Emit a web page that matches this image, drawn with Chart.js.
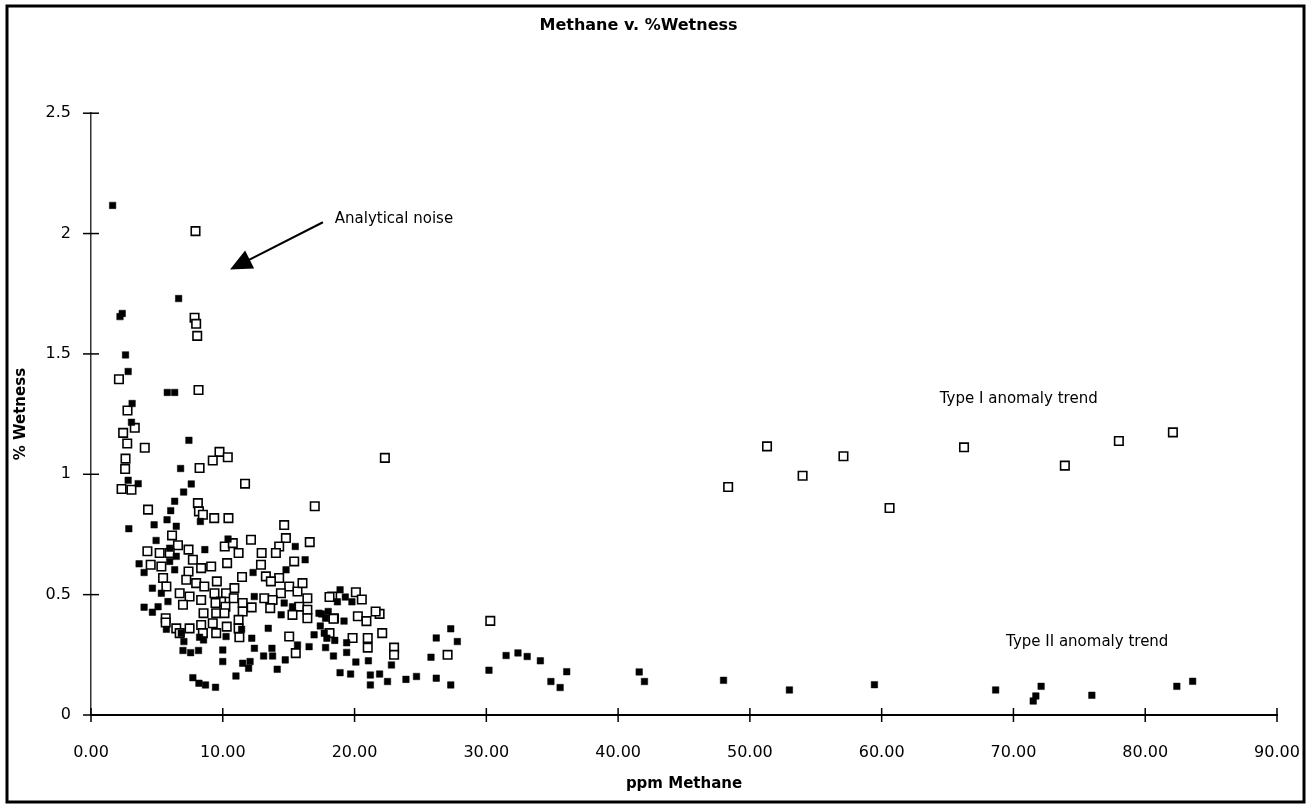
<!DOCTYPE html>
<html>
<head>
<meta charset="utf-8">
<script src="https://cdn.jsdelivr.net/npm/chart.js@4.4.1/dist/chart.umd.min.js"></script>
<style>
html,body{margin:0;padding:0;background:#fff;}
canvas{display:block;}
</style>
</head>
<body>
<canvas id="wetChart" width="1310" height="805"></canvas>
<script>
let xTicks = [0, 10, 20, 30, 40, 50, 60, 70, 80, 90];
let yTicks = [0, 0.5, 1, 1.5, 2, 2.5];

// open squares
let openX = [7.93, 7.86, 7.98, 8.06, 2.12, 8.16,
    2.77, 3.32, 2.44, 2.75, 4.08, 2.62, 2.59, 9.75, 10.38, 9.24, 8.24, 11.69, 2.32, 3.07,
    8.11, 8.19, 8.49, 9.35, 10.43, 4.33, 16.98, 14.66, 6.15, 14.79, 12.14, 16.6, 10.15, 10.76,
    11.2, 6.6, 4.28, 5.21, 5.97, 7.4, 7.73, 14.28, 14.03, 12.95, 15.42, 10.33, 4.53, 5.34,
    8.36, 9.12, 12.9, 7.4, 11.46, 13.27, 14.28, 13.65, 5.47, 7.23, 7.98, 8.6, 9.55, 5.72,
    10.88, 10.25, 15.04, 15.67, 16.05, 14.41, 13.15, 13.78, 6.73, 7.48, 8.36, 9.37, 9.87,
    10.83, 11.51, 16.42, 6.98, 9.45, 10.2, 13.6, 15.8, 16.42, 12.19, 11.51, 5.67, 5.67,
    8.54, 9.5, 10.13, 15.29, 16.42, 18.44, 18.3, 11.2, 6.47, 6.73, 7.48, 8.36, 8.49, 9.24,
    9.5, 10.3, 11.2, 11.26, 15.04, 15.54,
    22.3, 30.3, 27.06, 18.1, 20.1, 20.55, 18.4, 20.25, 20.9, 21.9, 21.6, 18.1, 19.85, 21.0,
    21.0, 22.1, 23.0, 23.0,
    48.35, 51.3, 54.0, 57.1, 60.6, 66.25, 73.9, 78.0, 82.1];
let openY = [2.01, 1.65, 1.625, 1.575, 1.395, 1.35,
    1.265, 1.193, 1.172, 1.128, 1.11, 1.065, 1.022, 1.093, 1.071, 1.057, 1.026, 0.961, 0.939, 0.936,
    0.88, 0.846, 0.832, 0.818, 0.818, 0.853, 0.867, 0.789, 0.746, 0.735, 0.728, 0.718, 0.70, 0.714,
    0.673, 0.705, 0.68, 0.673, 0.673, 0.687, 0.645, 0.70, 0.673, 0.673, 0.638, 0.631, 0.624, 0.617,
    0.61, 0.617, 0.624, 0.596, 0.573, 0.576, 0.569, 0.555, 0.569, 0.562, 0.548, 0.534, 0.555, 0.534,
    0.527, 0.506, 0.534, 0.513, 0.548, 0.506, 0.485, 0.478, 0.506, 0.492, 0.478, 0.506, 0.471,
    0.485, 0.465, 0.485, 0.458, 0.465, 0.45, 0.444, 0.45, 0.437, 0.447, 0.43, 0.402, 0.384,
    0.423, 0.423, 0.423, 0.416, 0.402, 0.402, 0.492, 0.395, 0.36, 0.34, 0.36, 0.374, 0.34, 0.381,
    0.34, 0.367, 0.36, 0.323, 0.326, 0.257,
    1.068, 0.391, 0.25, 0.49, 0.51, 0.48, 0.40, 0.41, 0.39, 0.42, 0.43, 0.34, 0.32, 0.32,
    0.28, 0.34, 0.28, 0.25,
    0.947, 1.116, 0.994, 1.075, 0.86, 1.112, 1.036, 1.138, 1.174];

// filled squares
let filledX = [1.64, 6.65, 2.37, 2.2, 2.62, 2.82, 5.79, 6.35,
    3.12, 3.07, 7.43, 6.8, 7.61, 7.03, 6.35, 2.82, 3.58, 8.3, 6.05, 5.77, 4.79, 6.47, 2.87,
    4.94, 10.4, 8.64, 5.97, 6.47, 15.5, 16.25, 3.65, 4.03, 5.97, 6.35, 12.3, 14.8, 4.66, 5.34,
    12.39, 4.03, 4.66, 5.09, 5.84, 14.66, 15.29, 14.43, 17.3, 5.72, 11.43, 13.45, 8.24, 8.54,
    10.25, 6.85, 7.05, 12.2, 12.4, 16.93, 16.55, 15.67, 13.1, 13.78, 13.73, 14.74, 14.13, 10.0,
    6.98, 7.56, 8.16, 10.0, 11.51, 12.07, 11.96, 11.0, 7.73, 8.19, 8.69, 9.45, 17.8, 17.9,
    18.9, 19.3, 18.7, 19.8, 17.5, 18.0, 19.2, 17.4, 17.7, 18.5, 19.4, 17.8, 18.4, 19.4, 20.1,
    21.05, 18.9, 19.7, 21.2, 21.9, 21.2, 22.5, 22.8, 23.9, 24.7, 26.2, 27.3, 25.8, 26.2, 27.3,
    27.8, 30.2, 31.5, 32.4, 33.1, 34.1, 34.9, 35.6, 36.1,
    41.6, 42.0, 48.0, 53.0, 59.45, 68.65, 71.5, 71.7, 72.1, 75.95, 82.4, 83.6];
let filledY = [2.117, 1.73, 1.668, 1.655, 1.496, 1.427, 1.34, 1.34,
    1.294, 1.216, 1.141, 1.024, 0.96, 0.926, 0.888, 0.975, 0.961, 0.804, 0.849, 0.811, 0.79, 0.784, 0.774,
    0.725, 0.731, 0.687, 0.693, 0.659, 0.70, 0.645, 0.628, 0.592, 0.638, 0.603, 0.592, 0.603, 0.527, 0.506,
    0.492, 0.448, 0.427, 0.45, 0.471, 0.465, 0.45, 0.416, 0.423, 0.356, 0.356, 0.36, 0.323, 0.312,
    0.326, 0.34, 0.305, 0.319, 0.277, 0.333, 0.284, 0.291, 0.245, 0.245, 0.277, 0.229, 0.19, 0.27,
    0.268, 0.259, 0.268, 0.222, 0.215, 0.222, 0.194, 0.162, 0.155, 0.132, 0.125, 0.115, 0.402, 0.319,
    0.52, 0.49, 0.47, 0.47, 0.42, 0.43, 0.39, 0.37, 0.34, 0.31, 0.30, 0.28, 0.245, 0.26, 0.22,
    0.225, 0.176, 0.17, 0.166, 0.17, 0.125, 0.139, 0.208, 0.148, 0.16, 0.153, 0.125, 0.24, 0.32, 0.358,
    0.305, 0.186, 0.247, 0.258, 0.243, 0.225, 0.139, 0.114, 0.18,
    0.179, 0.139, 0.144, 0.104, 0.126, 0.104, 0.058, 0.079, 0.119, 0.082, 0.119, 0.14];

let fontFam = '"DejaVu Sans", sans-serif';

function toPoints(xs, ys) {
    return xs.map((x, i) => ({ x: x, y: ys[i] }));
}

// 框線、刻度、註解
const extrasPlugin = {
    id: 'extras',
    afterDraw(chart) {
        let ctx = chart.ctx;
        let xs = chart.scales.x, ys = chart.scales.y;
        ctx.save();
        ctx.strokeStyle = '#000';
        ctx.fillStyle = '#000';

        // tick marks crossing the axes
        ctx.lineWidth = 1.5;
        xTicks.forEach(v => {
            let px = xs.getPixelForValue(v);
            ctx.beginPath();
            ctx.moveTo(px, ys.bottom - 7);
            ctx.lineTo(px, ys.bottom + 7);
            ctx.stroke();
        });
        yTicks.forEach(v => {
            let py = ys.getPixelForValue(v);
            ctx.beginPath();
            ctx.moveTo(xs.left - 8, py);
            ctx.lineTo(xs.left + 8, py);
            ctx.stroke();
        });

        // arrow to the noise points
        let x1 = xs.getPixelForValue(17.6), y1 = ys.getPixelForValue(2.047);
        let x2 = xs.getPixelForValue(10.55), y2 = ys.getPixelForValue(1.851);
        let ang = Math.atan2(y2 - y1, x2 - x1);
        ctx.lineWidth = 2;
        ctx.beginPath();
        ctx.moveTo(x1, y1);
        ctx.lineTo(x2 - 18 * Math.cos(ang), y2 - 18 * Math.sin(ang));
        ctx.stroke();
        ctx.beginPath();
        ctx.moveTo(x2, y2);
        ctx.lineTo(x2 - 22 * Math.cos(ang) + 10 * Math.sin(ang), y2 - 22 * Math.sin(ang) - 10 * Math.cos(ang));
        ctx.lineTo(x2 - 22 * Math.cos(ang) - 10 * Math.sin(ang), y2 - 22 * Math.sin(ang) + 10 * Math.cos(ang));
        ctx.closePath();
        ctx.fill();

        // labels
        ctx.font = '15px ' + fontFam;
        ctx.textBaseline = 'middle';
        ctx.textAlign = 'left';
        ctx.fillText('Analytical noise', xs.getPixelForValue(18.5), ys.getPixelForValue(2.06));
        ctx.textAlign = 'center';
        ctx.fillText('Type I anomaly trend', xs.getPixelForValue(70.4), ys.getPixelForValue(1.314));
        ctx.fillText('Type II anomaly trend', xs.getPixelForValue(75.6), ys.getPixelForValue(0.304));

        // outer frame
        ctx.lineWidth = 3;
        ctx.strokeRect(7, 6, 1297, 796);
        ctx.restore();
    }
};

let ctx = document.getElementById('wetChart').getContext('2d');
let wetChart = new Chart(ctx, {
    type: 'scatter',
    data: {
        datasets: [{
            label: 'filled',
            data: toPoints(filledX, filledY),
            pointStyle: 'rect',
            pointRadius: 4.6,
            backgroundColor: '#000',
            borderColor: '#000',
            borderWidth: 0.5,
            order: 1
        }, {
            label: 'open',
            data: toPoints(openX, openY),
            pointStyle: 'rect',
            pointRadius: 6,
            backgroundColor: '#fff',
            borderColor: '#000',
            borderWidth: 1.6,
            order: 2
        }]
    },
    options: {
        responsive: false,
        animation: false,
        devicePixelRatio: 1,
        layout: { padding: { left: 0, right: 33, top: 0, bottom: 0 } },
        plugins: {
            legend: { display: false },
            tooltip: { enabled: false },
            title: {
                display: true,
                text: 'Methane v. %Wetness',
                color: '#000',
                font: { family: fontFam, size: 16, weight: 'bold' },
                padding: { top: 16, bottom: 78 }
            }
        },
        scales: {
            x: {
                type: 'linear',
                min: 0,
                max: 90,
                afterBuildTicks: axis => { axis.ticks = xTicks.map(v => ({ value: v })); },
                afterFit: axis => {
                    axis.height = 90;
                    axis.paddingLeft = 0;
                    axis.paddingRight = 0;
                },
                grid: { display: true, drawOnChartArea: false, drawTicks: false },
                border: { display: true, color: '#000', width: 2 },
                ticks: {
                    color: '#000',
                    padding: 28,
                    maxRotation: 0,
                    font: { family: fontFam, size: 16 },
                    callback: v => v.toFixed(2)
                },
                title: {
                    display: true,
                    text: 'ppm Methane',
                    color: '#000',
                    font: { family: fontFam, size: 15, weight: 'bold' },
                    padding: { top: 0, bottom: 12 }
                }
            },
            y: {
                type: 'linear',
                min: 0,
                max: 2.5,
                afterBuildTicks: axis => { axis.ticks = yTicks.map(v => ({ value: v })); },
                afterFit: axis => {
                    axis.width = 91;
                    axis.paddingTop = 0;
                    axis.paddingBottom = 0;
                },
                grid: { display: true, drawOnChartArea: false, drawTicks: false },
                border: { display: true, color: '#333', width: 1.5 },
                ticks: {
                    color: '#000',
                    padding: 20,
                    font: { family: fontFam, size: 16 },
                    callback: v => String(v)
                },
                title: {
                    display: true,
                    text: '% Wetness',
                    color: '#000',
                    font: { family: fontFam, size: 15, weight: 'bold' },
                    padding: { top: 12, bottom: 0 }
                }
            }
        }
    },
    plugins: [extrasPlugin]
});
</script>
</body>
</html>
